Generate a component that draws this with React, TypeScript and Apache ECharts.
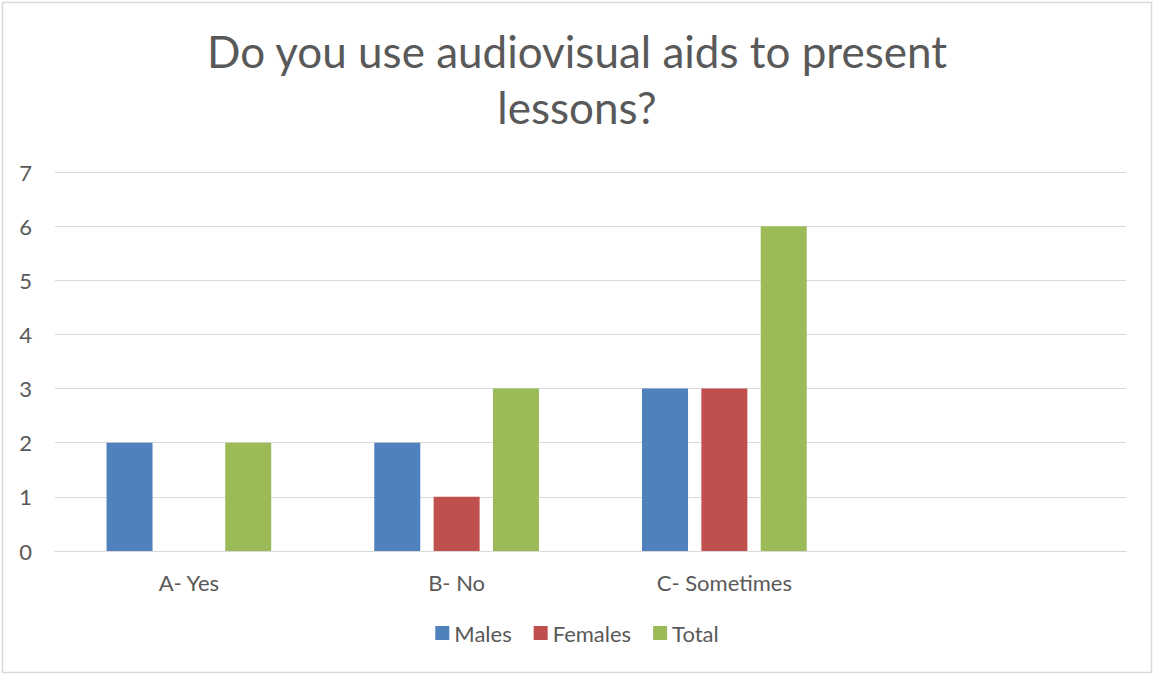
import React, { useEffect, useRef } from "react";
import * as echarts from "echarts";

const categories = ["A- Yes", "B- No", "C- Sometimes", ""];
const males = [2, 2, 3, null];
const females = [null, 1, 3, null];
const total = [2, 3, 6, null];
const seriesNames = ["Males", "Females", "Total"];
const colors = ["#4f81bd", "#c0504d", "#9bbb59"];
const titleText = "Do you use audiovisual aids to present\nlessons?";

const FONT = "Lato, 'Open Sans', sans-serif";
const TEXT = "#595959";

export default function App() {
  const ref = useRef<HTMLDivElement>(null);

  useEffect(() => {
    document.body.style.margin = "0";
    const chart = echarts.init(ref.current!, null, { renderer: "svg" });
    const values = [males, females, total];
    chart.setOption({
      animation: false,
      backgroundColor: "#ffffff",
      textStyle: { fontFamily: FONT },
      title: {
        text: titleText,
        left: "center",
        top: 18,
        textStyle: {
          fontFamily: FONT,
          fontSize: 44,
          fontWeight: "normal",
          color: TEXT,
          lineHeight: 56,
        },
      },
      legend: {
        bottom: 26,
        left: "center",
        itemWidth: 14,
        itemHeight: 14,
        itemGap: 22,
        icon: "rect",
        textStyle: { fontFamily: FONT, fontSize: 22, color: TEXT },
        data: seriesNames,
      },
      grid: { left: 55, right: 28, top: 172, bottom: 124, containLabel: false },
      xAxis: {
        type: "category",
        data: categories,
        axisLine: { show: true, lineStyle: { color: "#d9d9d9", width: 1 } },
        axisTick: { show: false },
        axisLabel: { fontFamily: FONT, fontSize: 22, color: TEXT, margin: 20 },
      },
      yAxis: {
        type: "value",
        min: 0,
        max: 7,
        interval: 1,
        axisLine: { show: false },
        axisTick: { show: false },
        axisLabel: { fontFamily: FONT, fontSize: 22, color: TEXT, margin: 23 },
        splitLine: { lineStyle: { color: "#d9d9d9", width: 1 } },
      },
      series: seriesNames.map((name, i) => ({
        name,
        type: "bar",
        data: values[i],
        barWidth: 46,
        barGap: "29%",
        itemStyle: { color: colors[i] },
      })),
      graphic: [
        {
          type: "rect",
          shape: { x: 2.5, y: 2.5, width: 1149, height: 670 },
          style: { fill: "none", stroke: "#d9d9d9", lineWidth: 1.5 },
          silent: true,
        },
      ],
    });
    return () => chart.dispose();
  }, []);

  return (
    <div
      ref={ref}
      style={{ position: "absolute", left: 0, top: 0, width: 1154, height: 675 }}
    />
  );
}
